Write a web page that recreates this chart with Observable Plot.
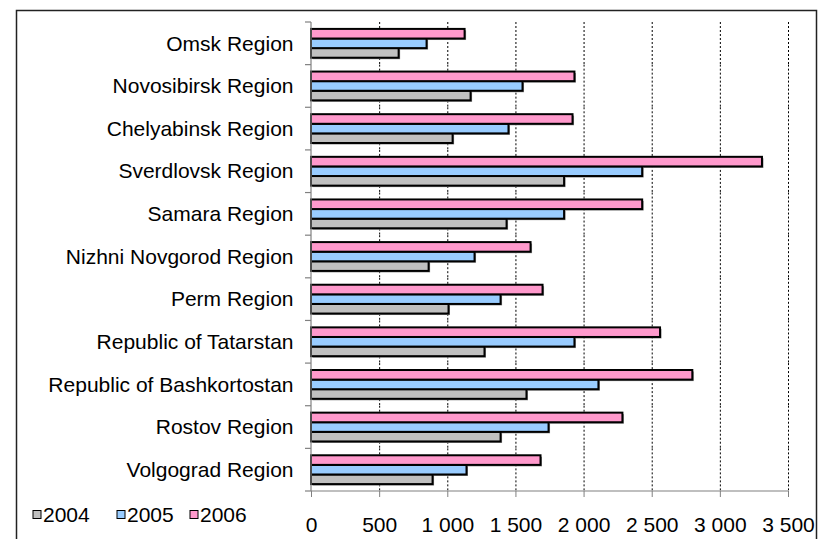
<!DOCTYPE html>
<html>
<head>
<meta charset="utf-8">
<script src="https://cdn.jsdelivr.net/npm/d3@7"></script>
<script src="https://cdn.jsdelivr.net/npm/@observablehq/plot@0.6"></script>
<style>
  html, body { margin: 0; padding: 0; background: #fff; }
  #chart svg { display: block; }
</style>
</head>
<body>
<div id="chart"></div>
<script>
// Regions, listed top to bottom
const regions = [
  "Omsk Region",
  "Novosibirsk Region",
  "Chelyabinsk Region",
  "Sverdlovsk Region",
  "Samara Region",
  "Nizhni Novgorod Region",
  "Perm Region",
  "Republic of Tatarstan",
  "Republic of Bashkortostan",
  "Rostov Region",
  "Volgograd Region"
];

const years = ["2004", "2005", "2006"];

// Values per region, same order as `regions`
const values2004 = [643, 1171, 1039, 1857, 1435, 863, 1009, 1273, 1581, 1391, 892];
const values2005 = [848, 1552, 1449, 2430, 1857, 1200, 1391, 1933, 2109, 1743, 1141];
const values2006 = [1127, 1933, 1919, 3309, 2430, 1611, 1699, 2561, 2798, 2285, 1684];

const xTicks = [0, 500, 1000, 1500, 2000, 2500, 3000, 3500];

const yearColors = ["#C0C0C0", "#99CCFF", "#FF99CC"];

// Long table: one row per region and year
const series = [values2004, values2005, values2006];
const data = [];
regions.forEach((region, i) => {
  years.forEach((year, j) => {
    data.push({region, year, value: series[j][i]});
  });
});

const fontFamily = "'Liberation Sans', Arial, Helvetica, sans-serif";
const fmt = d => d3.format(",")(d).replace(/,/g, " ");

const chart = Plot.plot({
  width: 823,
  height: 539,
  marginLeft: 311,
  marginRight: 35,
  marginTop: 22,
  marginBottom: 48,
  style: {fontFamily, fontSize: "21px", color: "#000", background: "#fff"},
  x: {domain: [0, 3500], axis: null},
  y: {domain: ["2006", "2005", "2004"], paddingInner: 0, paddingOuter: 0.72, round: false, axis: null},
  fy: {domain: regions, padding: 0, round: false, axis: null},
  color: {domain: years, range: yearColors},
  marks: [
    Plot.gridX(xTicks.filter(d => d > 0), {
      stroke: "#000", strokeOpacity: 1, strokeWidth: 1, strokeDasharray: "2,2"
    }),
    // soft drop shadow under each bar
    Plot.barX(data, {
      fy: "region", y: "year", x: "value",
      fill: "#8c8c8c", dx: 1.5, dy: 1.5
    }),
    Plot.barX(data, {
      fy: "region", y: "year", x: "value",
      fill: "year", stroke: "#000", strokeWidth: 2
    }),
    Plot.axisFy({
      anchor: "left", tickSize: 0, tickPadding: 18, fontSize: 21, label: null
    }),
    Plot.axisX({
      ticks: xTicks, tickFormat: fmt, tickSize: 6, tickPadding: 20,
      fontSize: 21, stroke: "#808080", label: null
    })
  ]
});

document.getElementById("chart").append(chart);

// Axis lines, category separators, outer border and legend
const svg = d3.select(chart);
const xScale = chart.scale("x");
const fyScale = chart.scale("fy");
const xStart = xScale.apply(0);
const xEnd = xScale.apply(3500);
const plotTop = fyScale.apply(regions[0]);
const plotBottom = fyScale.apply(regions[regions.length - 1]) + fyScale.bandwidth;

const deco = svg.append("g").attr("stroke", "#808080").attr("stroke-width", 1.2);
deco.append("line").attr("x1", xStart).attr("x2", xStart).attr("y1", plotTop).attr("y2", plotBottom);
deco.append("line").attr("x1", xStart).attr("x2", xEnd).attr("y1", plotBottom).attr("y2", plotBottom);
regions.forEach(r => {
  const yb = fyScale.apply(r);
  deco.append("line").attr("x1", xStart - 6).attr("x2", xStart).attr("y1", yb).attr("y2", yb);
});
deco.append("line").attr("x1", xStart - 6).attr("x2", xStart).attr("y1", plotBottom).attr("y2", plotBottom);

// outer chart border (open at the bottom edge of the page)
svg.append("path")
  .attr("d", "M16.5,560V10.5H816.5V560")
  .attr("fill", "none")
  .attr("stroke", "#222")
  .attr("stroke-width", 1.5);

// legend
const colorScale = chart.scale("color");
const legendX = [33, 117, 190];
const legend = svg.append("g")
  .attr("font-family", fontFamily)
  .attr("font-size", 21)
  .attr("text-anchor", "start");
years.forEach((year, i) => {
  const g = legend.append("g").attr("transform", `translate(${legendX[i]},510.5)`);
  g.append("rect").attr("width", 8).attr("height", 8)
    .attr("fill", colorScale.apply(year)).attr("stroke", "#000").attr("stroke-width", 1);
  g.append("text").attr("x", 10).attr("y", 4.5).attr("dy", "0.35em")
    .attr("fill", "#000").text(year);
});
</script>
</body>
</html>
